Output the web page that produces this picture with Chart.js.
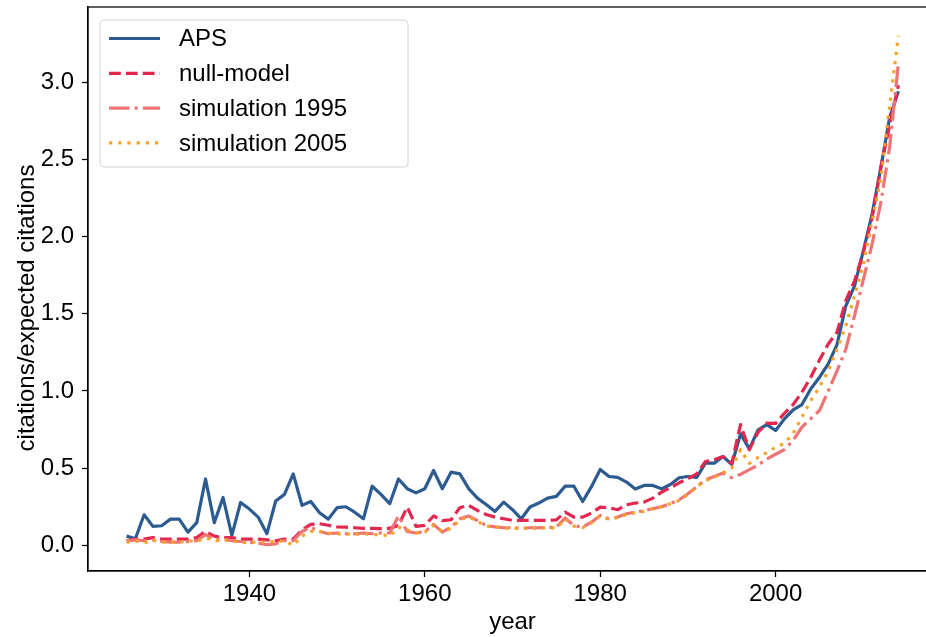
<!DOCTYPE html>
<html lang="en">
  <head>
    <meta charset="UTF-8" />
    <title>citations/expected citations</title>
    <script src="https://cdn.jsdelivr.net/npm/chart.js"></script>
    <style>
      html, body {
        margin: 0;
        padding: 0;
        background: #ffffff;
        overflow: hidden;
      }
      #wrap {
        position: relative;
        width: 945px;
        height: 637px;
      }
    </style>
  </head>
  <body>
    <div id="wrap">
      <canvas id="myChart" width="945" height="637"></canvas>
    </div>

    <script>
      const years = [
        1926, 1927, 1928, 1929, 1930, 1931, 1932, 1933, 1934, 1935,
        1936, 1937, 1938, 1939, 1940, 1941, 1942, 1943, 1944, 1945,
        1946, 1947, 1948, 1949, 1950, 1951, 1952, 1953, 1954, 1955,
        1956, 1957, 1958, 1959, 1960, 1961, 1962, 1963, 1964, 1965,
        1966, 1967, 1968, 1969, 1970, 1971, 1972, 1973, 1974, 1975,
        1976, 1977, 1978, 1979, 1980, 1981, 1982, 1983, 1984, 1985,
        1986, 1987, 1988, 1989, 1990, 1991, 1992, 1993, 1994, 1995,
        1996, 1997, 1998, 1999, 2000, 2001, 2002, 2003, 2004, 2005,
        2006, 2007, 2008, 2009, 2010, 2011, 2012, 2013, 2014
      ];

      const aps = [
        0.06, 0.043, 0.198, 0.123, 0.127, 0.17, 0.17, 0.086, 0.147, 0.43,
        0.147, 0.31, 0.065, 0.278, 0.235, 0.183, 0.076, 0.287, 0.33, 0.463,
        0.259, 0.284, 0.211, 0.17, 0.244, 0.25, 0.215, 0.172, 0.383, 0.33,
        0.27, 0.43, 0.367, 0.34, 0.367, 0.485, 0.367, 0.474, 0.463, 0.367,
        0.306, 0.265, 0.22, 0.28, 0.231, 0.172, 0.248, 0.274, 0.306, 0.317,
        0.383, 0.383, 0.284, 0.38, 0.491, 0.446, 0.44, 0.41, 0.365, 0.388,
        0.388, 0.366, 0.394, 0.438, 0.446, 0.44, 0.532, 0.532, 0.575, 0.524,
        0.722, 0.625, 0.748, 0.782, 0.744, 0.819, 0.877, 0.912, 1.013, 1.088,
        1.175, 1.30, 1.55, 1.68, 1.907, 2.145, 2.446, 2.77, 2.94
      ];

      const nullModel = [
        0.03, 0.04, 0.04, 0.05, 0.04, 0.04, 0.04, 0.04, 0.05, 0.09,
        0.06, 0.05, 0.05, 0.04, 0.04, 0.04, 0.035, 0.03, 0.04, 0.04,
        0.10, 0.136, 0.14, 0.13, 0.12, 0.118, 0.114, 0.11, 0.11, 0.108,
        0.11, 0.13, 0.248, 0.123, 0.13, 0.19, 0.16, 0.166, 0.244, 0.259,
        0.226, 0.2, 0.183, 0.172, 0.162, 0.162, 0.162, 0.162, 0.162, 0.165,
        0.215, 0.183, 0.183, 0.209, 0.248, 0.244, 0.231, 0.263, 0.274, 0.28,
        0.306, 0.345, 0.373, 0.405, 0.431, 0.463, 0.543, 0.554, 0.575, 0.53,
        0.782, 0.619, 0.733, 0.791, 0.79, 0.855, 0.912, 0.991, 1.088, 1.2,
        1.304, 1.38, 1.584, 1.713, 1.896, 2.12, 2.45, 2.72, 2.98
      ];

      const sim1995 = [
        0.03, 0.035, 0.03, 0.035, 0.025, 0.02, 0.02, 0.025, 0.03, 0.07,
        0.04, 0.04, 0.03, 0.025, 0.02, 0.015, 0.005, 0.01, 0.03, 0.03,
        0.09, 0.118, 0.09, 0.075, 0.08, 0.075, 0.075, 0.08, 0.075, 0.08,
        0.08, 0.19, 0.09, 0.08, 0.09, 0.136, 0.086, 0.118, 0.172, 0.19,
        0.16, 0.128, 0.12, 0.114, 0.114, 0.112, 0.114, 0.114, 0.116, 0.118,
        0.177, 0.128, 0.118, 0.15, 0.194, 0.172, 0.183, 0.205, 0.215, 0.225,
        0.237, 0.25, 0.27, 0.295, 0.334, 0.38, 0.425, 0.446, 0.468, 0.438,
        0.46, 0.49, 0.52, 0.56, 0.59, 0.62, 0.68, 0.765, 0.82, 0.873,
        1.0, 1.13, 1.27, 1.487, 1.72, 1.95, 2.22, 2.58, 3.12
      ];

      const sim2005 = [
        0.02, 0.03, 0.015, 0.035, 0.02, 0.025, 0.02, 0.03, 0.025, 0.05,
        0.03, 0.035, 0.03, 0.02, 0.015, 0.025, 0.02, 0.025, 0.03, 0.0,
        0.06, 0.09, 0.09, 0.08, 0.075, 0.075, 0.07, 0.075, 0.07, 0.07,
        0.06, 0.118, 0.1, 0.08, 0.085, 0.13, 0.09, 0.11, 0.165, 0.185,
        0.155, 0.125, 0.12, 0.112, 0.11, 0.11, 0.112, 0.11, 0.115, 0.112,
        0.17, 0.125, 0.115, 0.145, 0.19, 0.17, 0.18, 0.2, 0.21, 0.22,
        0.24, 0.25, 0.27, 0.29, 0.33, 0.38, 0.42, 0.44, 0.47, 0.5,
        0.62, 0.53, 0.57, 0.6, 0.636, 0.66, 0.726, 0.83, 0.937, 1.024,
        1.13, 1.27, 1.42, 1.617, 1.82, 2.10, 2.38, 2.845, 3.30
      ];

      const xTicks = [1940, 1960, 1980, 2000];
      const yTicks = [0.0, 0.5, 1.0, 1.5, 2.0, 2.5, 3.0];
      const yTitle = "citations/expected citations";

      const FONT = { family: "'Liberation Sans', Arial, Helvetica, sans-serif", size: 24 };
      Chart.defaults.font.family = FONT.family;
      Chart.defaults.color = "#000";

      const toPoints = vals => years.map((yr, i) => ({ x: yr, y: vals[i] }));

      const series = [
        { label: "APS", data: aps, color: "#2b5b91", dash: [], order: 4 },
        { label: "null-model", data: nullModel, color: "#e3274f", dash: [11.8, 5.1], order: 3 },
        { label: "simulation 1995", data: sim1995, color: "#ee7476", dash: [20.5, 5.1, 3.2, 5.1], order: 2 },
        { label: "simulation 2005", data: sim2005, color: "#f5a32b", dash: [3.2, 6], order: 1 }
      ];

      // no extra label padding, the axes box is placed by hand
      const noPad = s => {
        s.paddingTop = 0;
        s.paddingBottom = 0;
        s.paddingLeft = 0;
        s.paddingRight = 0;
      };

      // spines, y label and legend box drawn inside the plot, matplotlib style
      const boxLegend = {
        id: "boxLegend",
        afterDraw(chart) {
          const c = chart.ctx;
          const area = chart.chartArea;
          c.save();
          c.strokeStyle = "#000";
          c.lineWidth = 1.25;
          c.strokeRect(area.left, area.top, area.right - area.left, area.bottom - area.top);

          c.font = `${FONT.size}px ${FONT.family}`;
          c.fillStyle = "#000";
          c.save();
          c.translate(27, 308);
          c.rotate(-Math.PI / 2);
          c.textAlign = "center";
          c.textBaseline = "middle";
          c.fillText(yTitle, 0, 0);
          c.restore();

          const bx = 100, by = 20, bw = 308, bh = 147;
          c.beginPath();
          c.roundRect(bx, by, bw, bh, 4);
          c.fillStyle = "rgba(255,255,255,0.8)";
          c.fill();
          c.strokeStyle = "#d4d4d4";
          c.lineWidth = 1;
          c.stroke();

          c.textBaseline = "middle";
          c.textAlign = "left";
          chart.data.datasets.forEach((ds, i) => {
            const y = 38.5 + i * 34.8;
            c.beginPath();
            c.setLineDash(ds.borderDash || []);
            c.lineWidth = ds.borderWidth;
            c.strokeStyle = ds.borderColor;
            c.lineCap = "butt";
            c.moveTo(109, y);
            c.lineTo(160, y);
            c.stroke();
            c.setLineDash([]);
            c.fillStyle = "#000";
            c.fillText(ds.label, 179, y + 1);
          });
          c.restore();
        }
      };

      const ctx = document.getElementById("myChart").getContext("2d");

      new Chart(ctx, {
        type: "line",
        data: {
          datasets: series.map(s => ({
            label: s.label,
            data: toPoints(s.data),
            borderColor: s.color,
            backgroundColor: s.color,
            borderWidth: 3.2,
            borderDash: s.dash,
            borderJoinStyle: "round",
            borderCapStyle: "butt",
            pointRadius: 0,
            tension: 0,
            fill: false,
            order: s.order
          }))
        },
        options: {
          responsive: false,
          devicePixelRatio: 1,
          animation: false,
          layout: { padding: { left: 0, top: 7, right: 8, bottom: 0 } },
          plugins: {
            legend: { display: false },
            tooltip: { enabled: false }
          },
          scales: {
            x: {
              type: "linear",
              min: 1921.6,
              max: 2018.4,
              afterBuildTicks: s => { s.ticks = xTicks.map(v => ({ value: v })); },
              afterFit: s => { s.height = 66; noPad(s); },
              ticks: {
                autoSkip: false,
                maxRotation: 0,
                padding: 3,
                color: "#000",
                font: FONT,
                callback: v => String(v)
              },
              grid: { drawOnChartArea: false, tickLength: 6, tickColor: "#000", tickWidth: 1.25 },
              border: { color: "#000", width: 1.25 },
              title: {
                display: true,
                text: "year",
                color: "#000",
                font: FONT,
                padding: { top: 0, bottom: 0 }
              }
            },
            y: {
              min: -0.166,
              max: 3.486,
              afterBuildTicks: s => { s.ticks = yTicks.map(v => ({ value: v })); },
              afterFit: s => { s.width = 88; noPad(s); },
              ticks: {
                autoSkip: false,
                padding: 8,
                color: "#000",
                font: FONT,
                callback: v => v.toFixed(1)
              },
              grid: { drawOnChartArea: false, tickLength: 6, tickColor: "#000", tickWidth: 1.25 },
              border: { color: "#000", width: 1.25 },
              title: { display: false }
            }
          }
        },
        plugins: [boxLegend]
      });
    </script>
  </body>
</html>
